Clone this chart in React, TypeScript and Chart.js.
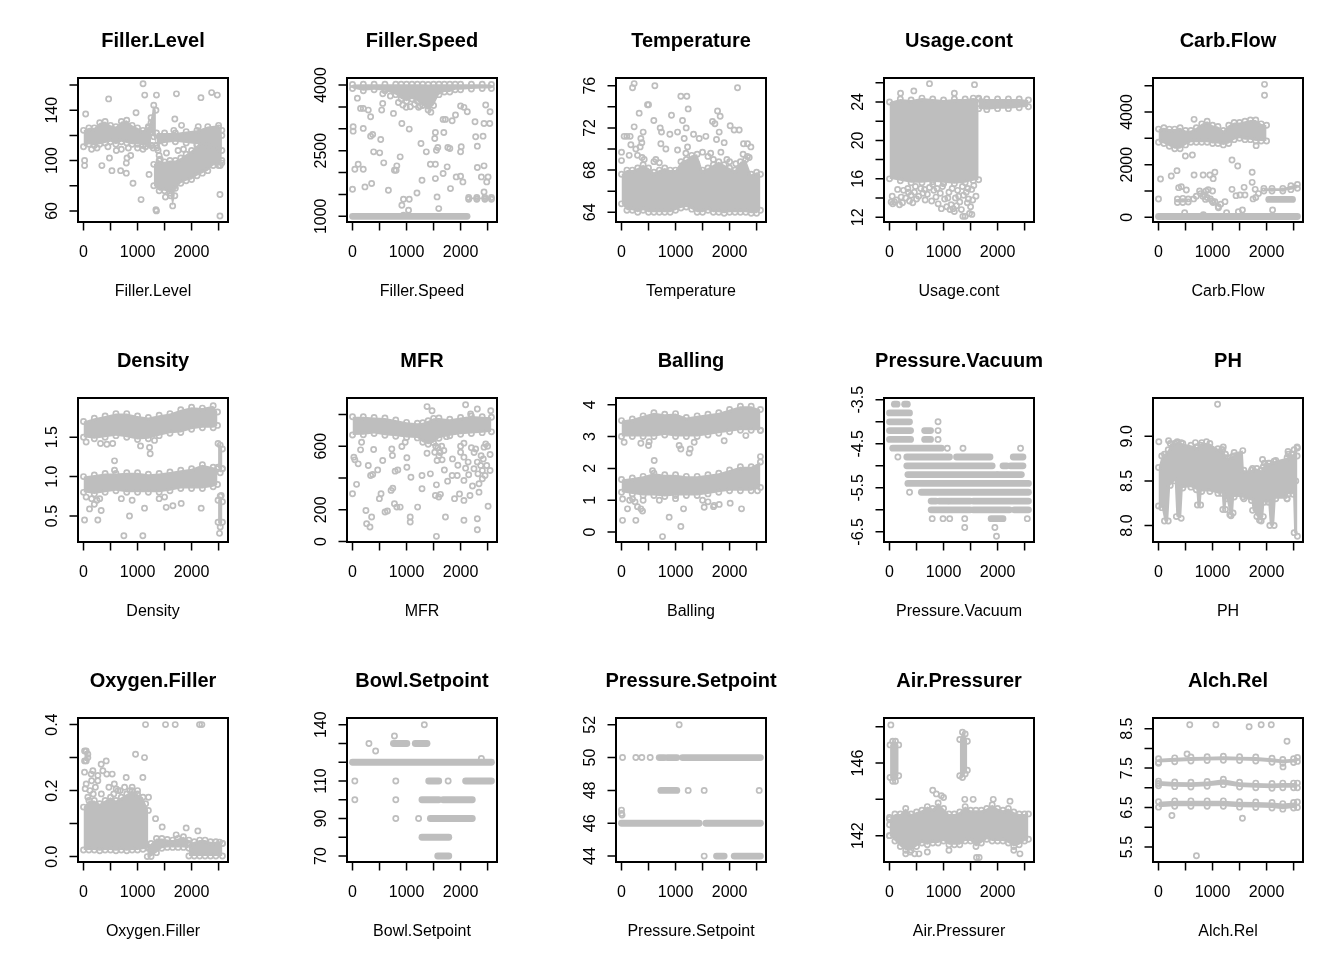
import { useEffect, useRef } from "react"
import { Chart, registerables } from "chart.js"

Chart.register(...registerables)

const GRAY = "#bebebe"
const FONT = "'Liberation Sans', Arial, Helvetica, sans-serif"

type Pt = [number, number]
type Band = { x: number[]; lo: number[]; hi: number[] }
type Seg = [number, number, number] // [y, xFrom, xTo]

// shared x axis (row index)
const xRange = [-102, 2674]
const xTicks = [0, 500, 1000, 1500, 2000, 2500]
const xTickLabels = ["0", "", "1000", "", "2000", ""]

// ---------- Filler.Level ----------
const fillerLevelBands: Band[] = [
  { x: [0, 100, 200, 300, 400, 500, 600, 700, 800, 900, 1000, 1100, 1200, 1250], lo: [111, 113, 112, 113, 114, 115, 113, 115, 114, 113, 113, 112, 113, 112], hi: [124, 126, 126, 130, 131, 128, 127, 131, 132, 128, 126, 124, 127, 130] },
  { x: [1200, 1250, 1300, 1340], lo: [120, 122, 119, 112], hi: [126, 134, 144, 140] },
  { x: [1350, 1500, 1700, 1900, 2100, 2300, 2500, 2560], lo: [112, 114, 115, 114, 113, 112, 110, 108], hi: [122, 122, 122, 123, 124, 127, 128, 124] },
  { x: [1300, 1400, 1500, 1600, 1700, 1800, 1900, 2000, 2100, 2200, 2300, 2400, 2500, 2560], lo: [80, 76, 76, 74, 78, 82, 84, 85, 88, 90, 92, 96, 96, 98], hi: [97, 100, 99, 100, 100, 102, 105, 108, 112, 116, 120, 124, 126, 120] },
  { x: [1610, 1650, 1690], lo: [72, 64, 72], hi: [80, 78, 80] },
]
const fillerLevelPts: Pt[] = [
  [40, 137], [20, 100], [20, 96], [465, 149], [480, 102], [340, 96], [526, 92], [687, 92], [792, 90], [792, 98], [805, 102], [873, 104],
  [916, 82], [1065, 69], [1102, 161], [1133, 152], [1350, 152], [1350, 60], [1340, 61], [1213, 89], [1720, 153], [1690, 133], [1814, 128],
  [2173, 150], [2123, 127], [2371, 154], [2476, 152], [2525, 73], [2525, 56], [972, 138], [607, 108], [452, 111], [1535, 106], [1671, 124],
  [1516, 71], [1380, 108], [1400, 104], [1420, 101], [1360, 110], [1290, 110], [1260, 112], [250, 110], [150, 109], [700, 109], [830, 110],
  [1000, 110], [1100, 109], [1150, 111], [1850, 109], [1750, 108], [2450, 110], [2530, 96], [2560, 100],
]

// ---------- Filler.Speed ----------
const fillerSpeedBands: Band[] = [
  { x: [0, 200, 400, 600, 800, 900, 1000, 1100, 1200, 1300, 1400, 1500, 1600, 1700, 1800, 1900, 2000, 2200, 2400, 2571], lo: [3920, 3870, 3890, 3870, 3780, 3680, 3630, 3680, 3630, 3530, 3430, 3530, 3780, 3840, 3840, 3890, 3890, 3910, 3920, 3920], hi: [4010, 4020, 4020, 4020, 4020, 4020, 4020, 4020, 4020, 4020, 4010, 4020, 4020, 4020, 4020, 4020, 4020, 4020, 4020, 4010] },
  { x: [2150, 2300, 2450, 2571], lo: [1390, 1390, 1390, 1390], hi: [1430, 1430, 1430, 1430] },
]
const fillerSpeedSegs: Seg[] = [[1000, 0, 2120]]
const fillerSpeedPts: Pt[] = [
  [12, 3046], [12, 2946], [199, 3008], [149, 3466], [199, 3466], [292, 3427], [335, 3275], [373, 2870], [522, 2756], [335, 2832], [559, 3580],
  [540, 3427], [758, 3351], [913, 3122], [931, 3542], [994, 3489], [1050, 2992], [1069, 3504], [1223, 3489], [1267, 2664], [1366, 2473],
  [1534, 2916], [1522, 2779], [1690, 2916], [1578, 2572], [1553, 2511], [1764, 2572], [1801, 2549], [1677, 3214], [1720, 3214], [1844, 3183],
  [1906, 3313], [2000, 3519], [2062, 3489], [2012, 2588], [2000, 2473], [2124, 3389], [2267, 3160], [2279, 2817], [2310, 2603], [2416, 2832],
  [2434, 3122], [2465, 3542], [2546, 3389], [2540, 3122], [0, 1618], [199, 2076], [43, 2076], [105, 2191], [230, 1672], [354, 1748],
  [391, 2473], [503, 2450], [578, 2221], [664, 1595], [776, 2053], [807, 2053], [820, 2153], [882, 2359], [913, 1252], [943, 1389],
  [1050, 1389], [1037, 1137], [1193, 1534], [1286, 1824], [1441, 2191], [1534, 2191], [1534, 1862], [1565, 1443], [1596, 1176], [1677, 1977],
  [1752, 2130], [1813, 1633], [1919, 1900], [2000, 1916], [2043, 1786], [2310, 2114], [2385, 1900], [2434, 2153], [2434, 1557], [2484, 1786],
  [2509, 1900], [943, 1023], [90, 3700], [560, 3800], [600, 3900], [700, 3750], [850, 3600], [1150, 3560], [1250, 3520], [1450, 3380],
]

// ---------- Temperature ----------
const temperatureBands: Band[] = [
  { x: [0, 100, 200, 300, 400, 500, 600, 700, 800, 900, 1000, 1100, 1200, 1300, 1400, 1500, 1600, 1700, 1800, 1900, 2000, 2100, 2200, 2300, 2400, 2500, 2571], lo: [64.8, 64.2, 64.2, 64.0, 64.2, 64.0, 64.0, 64.0, 64.0, 64.0, 64.2, 64.4, 64.5, 64.3, 64.0, 64.0, 64.2, 64.0, 64.0, 63.9, 64.0, 64.0, 64.0, 64.0, 63.9, 63.9, 64.2], hi: [67.6, 68.0, 68.0, 68.2, 68.5, 68.2, 67.8, 68.0, 68.2, 68.0, 68.0, 68.8, 69.0, 69.4, 69.5, 68.0, 68.2, 68.5, 68.8, 68.5, 68.2, 68.0, 68.8, 69.0, 67.6, 67.8, 67.6] },
]
const temperaturePts: Pt[] = [
  [0, 69.7], [0, 68.9], [49, 71.2], [99, 71.2], [160, 71.2], [204, 75.8], [234, 76.2], [173, 70.4], [142, 69.4], [234, 72.1], [327, 73.4],
  [358, 71], [376, 70.6], [345, 70.2], [401, 71.6], [265, 70], [296, 69.4], [481, 74.2], [500, 74.2], [617, 76.0], [598, 72.7], [635, 69],
  [716, 72], [740, 71.6], [728, 70.5], [821, 70], [895, 71.4], [925, 73.2], [1037, 71.6], [1098, 75], [1209, 75], [1129, 72.7], [1160, 71],
  [1197, 72], [1234, 73.8], [1222, 70.2], [1037, 69.9], [1191, 69.6], [1333, 71.4], [1438, 71], [1561, 71.2], [1499, 69.7], [1394, 68.6],
  [1684, 72.6], [1728, 72.4], [1777, 73.6], [1808, 71.6], [1826, 73.1], [1758, 70.9], [1839, 69.7], [1900, 70.6], [2011, 72.2], [2085, 71.8],
  [2178, 71.8], [2147, 75.8], [2258, 70.5], [2332, 70.5], [2363, 69.2], [2394, 70.2], [2116, 68.6], [380, 69.2], [420, 69.0], [600, 68.8],
  [700, 68.7], [1600, 69.3], [1650, 69.6], [1700, 69.0], [1950, 69.0], [2250, 69.5], [2330, 69.3], [2000, 68.8],
]

// ---------- Usage.cont ----------
const usageContBands: Band[] = [
  { x: [0, 200, 400, 600, 800, 1000, 1200, 1400, 1550, 1650], lo: [16.0, 15.8, 15.6, 15.6, 15.7, 15.6, 15.5, 15.6, 15.8, 15.9], hi: [24.0, 24.3, 24.2, 24.4, 24.3, 24.2, 24.3, 24.3, 24.4, 24.3] },
  { x: [1650, 1800, 2000, 2200, 2400, 2571], lo: [23.3, 23.2, 23.3, 23.3, 23.4, 23.5], hi: [24.4, 24.3, 24.3, 24.3, 24.3, 24.2] },
]
const usageContPts: Pt[] = [
  [31, 13.6], [93, 13.6], [60, 13.4], [130, 13.8], [185, 13.3], [216, 14.1], [260, 14.8], [300, 14.0], [339, 15.0], [370, 13.7], [400, 14.3],
  [430, 13.5], [460, 14.6], [500, 13.9], [540, 14.2], [580, 15.0], [620, 14.5], [660, 13.8], [700, 14.4], [740, 15.1], [780, 13.7], [820, 14.8],
  [860, 14.1], [900, 13.4], [940, 14.5], [980, 15.2], [1020, 13.9], [1060, 13.1], [1100, 14.6], [1140, 13.3], [1180, 12.9], [1220, 14.0],
  [1260, 14.8], [1300, 13.6], [1330, 12.8], [1370, 14.3], [1400, 12.1], [1440, 13.5], [1480, 12.4], [1520, 14.9], [1560, 15.3], [1000, 15.5],
  [1450, 15.0], [800, 15.4], [1357, 12.1], [1524, 12.3], [1200, 12.6], [204, 24.9], [450, 25.15], [740, 25.9], [1573, 25.8], [1200, 24.9],
  [50, 14.2], [150, 14.9], [240, 13.5], [350, 14.6], [480, 15.2], [650, 14.9], [880, 15.0], [1080, 14.0], [1160, 15.0], [1240, 13.2],
  [1280, 14.2], [1350, 15.2], [1420, 14.6], [1460, 13.9], [1500, 13.1], [1540, 13.8], [1600, 14.2], [1120, 12.8], [960, 12.9],
]

// ---------- Carb.Flow ----------
const carbFlowBands: Band[] = [
  { x: [0, 100, 200, 300, 400, 500, 600, 700, 800, 900, 1000, 1100, 1200, 1300, 1400, 1500, 1600, 1700, 1800, 1900, 2000], lo: [2850, 2800, 2700, 2600, 2600, 2750, 2850, 2850, 2850, 2850, 2800, 2800, 2750, 2800, 2950, 3000, 2950, 2950, 2900, 2900, 2900], hi: [3350, 3400, 3350, 3350, 3400, 3300, 3300, 3400, 3550, 3650, 3500, 3450, 3300, 3500, 3600, 3600, 3650, 3700, 3700, 3550, 3500] },
  { x: [1950, 2100, 2300, 2450, 2571], lo: [1000, 1000, 1000, 1050, 1100], hi: [1100, 1100, 1100, 1200, 1250] },
  { x: [350, 450, 550], lo: [560, 560, 580], hi: [700, 720, 700] },
]
const carbFlowSegs: Seg[] = [[30, 0, 2571], [680, 2040, 2480]]
const carbFlowPts: Pt[] = [
  [0, 696], [37, 1456], [236, 1570], [342, 1772], [373, 1127], [422, 1165], [515, 1038], [497, 2329], [627, 2367], [658, 3722], [658, 1608],
  [826, 1608], [950, 1608], [1043, 1709], [1012, 1469], [760, 1000], [880, 1000], [920, 1050], [1000, 1000], [1043, 595], [1105, 405],
  [1110, 360], [820, 800], [870, 680], [1230, 595], [1360, 1063], [1360, 2177], [1466, 1950], [1509, 848], [1584, 1139], [1435, 823],
  [1600, 850], [1733, 1709], [1733, 1329], [1789, 1063], [1807, 2722], [1962, 5051], [1962, 4634], [1260, 177], [1478, 215], [1553, 278],
  [2111, 278], [484, 177], [830, 100], [900, 750], [960, 700], [650, 700], [700, 800], [1150, 500], [1750, 700], [1800, 750], [1850, 900],
  [780, 900], [850, 850], [990, 620], [1010, 560],
]

// ---------- Density ----------
const densityBands: Band[] = [
  { x: [0, 200, 400, 600, 800, 1000, 1200, 1400, 1600, 1800, 2000, 2200, 2400, 2480], lo: [1.50, 1.48, 1.50, 1.52, 1.50, 1.47, 1.48, 1.52, 1.55, 1.56, 1.60, 1.62, 1.62, 1.65], hi: [1.70, 1.74, 1.77, 1.80, 1.80, 1.77, 1.75, 1.78, 1.80, 1.85, 1.88, 1.87, 1.90, 1.82] },
  { x: [0, 200, 400, 600, 800, 1000, 1200, 1400, 1600, 1800, 2000, 2200, 2400, 2480], lo: [0.80, 0.78, 0.80, 0.82, 0.80, 0.80, 0.80, 0.80, 0.82, 0.85, 0.85, 0.85, 0.87, 0.90], hi: [1.00, 1.02, 1.04, 1.04, 1.05, 1.05, 1.03, 1.04, 1.06, 1.08, 1.10, 1.15, 1.12, 1.10] },
  { x: [2490, 2530, 2571], lo: [1.12, 1.05, 1.10], hi: [1.42, 1.40, 1.35] },
  { x: [2490, 2530, 2571], lo: [0.42, 0.36, 0.42], hi: [0.70, 0.75, 0.68] },
]
const densityPts: Pt[] = [
  [19, 0.45], [265, 0.45], [49, 0.74], [111, 0.59], [200, 0.65], [327, 0.57], [574, 1.2], [574, 1.08], [851, 0.5], [747, 0.25], [1098, 0.25],
  [1129, 0.6], [1530, 0.61], [1654, 0.63], [1808, 0.66], [2178, 0.6], [1055, 1.39], [1222, 1.37], [1234, 1.29], [1314, 1.46], [315, 1.42],
  [432, 1.41], [540, 1.42], [49, 1.44], [2517, 0.28], [2567, 1.1], [2548, 0.76], [150, 0.72], [250, 0.7], [300, 0.72], [700, 0.72], [900, 0.7],
  [1400, 0.72], [1500, 0.74],
]

// ---------- MFR ----------
const mfrBands: Band[] = [
  { x: [0, 200, 400, 600, 800, 1000, 1200, 1300, 1400, 1500, 1600, 1800, 2000, 2200, 2400, 2571], lo: [670, 672, 680, 668, 662, 655, 652, 625, 612, 622, 650, 665, 675, 680, 685, 690], hi: [785, 785, 780, 778, 765, 750, 745, 748, 760, 775, 778, 770, 780, 790, 785, 782] },
]
const mfrPts: Pt[] = [
  [0, 301], [25, 531], [43, 514], [75, 360], [105, 489], [149, 577], [168, 625], [248, 196], [261, 113], [292, 479], [323, 92], [354, 155],
  [335, 416], [373, 422], [391, 579], [466, 451], [497, 270], [528, 301], [559, 510], [602, 186], [646, 192], [714, 322], [745, 336], [776, 238],
  [820, 217], [882, 217], [739, 541], [727, 583], [789, 443], [838, 451], [913, 598], [975, 625], [1006, 527], [1006, 468], [1068, 155],
  [1068, 123], [1081, 405], [1205, 217], [1286, 332], [1286, 416], [1379, 849], [1379, 556], [1472, 823], [1441, 426], [1522, 562], [1565, 510],
  [1534, 290], [1553, 357], [1553, 33], [1596, 280], [1627, 297], [1658, 514], [1690, 573], [1739, 660], [1720, 155], [1888, 270], [1844, 416],
  [1938, 416], [2000, 562], [2062, 619], [2062, 531], [2062, 134], [2062, 385], [2062, 259], [2093, 861], [2093, 462], [2174, 290], [2248, 458],
  [2279, 583], [2310, 500], [2322, 426], [2341, 364], [2341, 311], [2372, 479], [2403, 447], [2310, 144], [2310, 75], [2434, 594], [2465, 614],
  [2484, 479], [2453, 416], [2403, 395], [2546, 548], [2546, 447], [2509, 222], [2558, 823], [2310, 834], [2186, 803], [1540, 600], [1580, 590],
  [1620, 560], [1600, 540], [1650, 600], [2200, 590], [2250, 560], [2000, 600], [1700, 450], [1760, 380], [1850, 520], [1950, 480], [2150, 420],
  [2220, 350], [2380, 540], [2420, 520], [2500, 600], [2140, 500], [1980, 300],
]

// ---------- Balling ----------
const ballingBands: Band[] = [
  { x: [0, 200, 400, 600, 800, 1000, 1200, 1400, 1600, 1800, 2000, 2200, 2400, 2571], lo: [3.0, 3.0, 3.0, 3.0, 3.05, 3.0, 3.0, 3.0, 3.05, 3.1, 3.15, 3.2, 3.2, 3.2], hi: [3.5, 3.55, 3.65, 3.75, 3.7, 3.72, 3.6, 3.65, 3.7, 3.75, 3.85, 3.95, 3.95, 3.85] },
  { x: [0, 200, 400, 600, 800, 1000, 1200, 1400, 1600, 1800, 2000, 2200, 2400, 2571], lo: [1.25, 1.2, 1.15, 1.15, 1.12, 1.15, 1.15, 1.15, 1.2, 1.25, 1.3, 1.3, 1.3, 1.4], hi: [1.65, 1.7, 1.75, 1.85, 1.8, 1.8, 1.75, 1.75, 1.8, 1.85, 1.95, 2.05, 2.05, 2.2] },
]
const ballingPts: Pt[] = [
  [19, 0.37], [265, 0.37], [111, 0.73], [19, 1.04], [204, 1.04], [296, 0.8], [358, 0.73], [389, 0.66], [605, 2.25], [574, 1.93], [882, 0.47],
  [759, -0.14], [1098, 0.18], [1148, 0.73], [1530, 0.78], [1703, 0.8], [1808, 0.87], [2011, 0.91], [2221, 0.73], [1715, 0.84], [49, 2.82],
  [358, 2.79], [500, 2.72], [512, 2.84], [1067, 2.72], [1098, 2.61], [1252, 2.48], [1271, 2.61], [1345, 2.82], [1900, 2.87], [2301, 3.03],
  [2571, 3.19], [2571, 2.37], [2517, 1.3], [150, 1.0], [250, 0.95], [400, 1.0], [700, 1.0], [1000, 1.05], [1500, 1.0], [1600, 0.95],
]

// ---------- Pressure.Vacuum ----------
const pressureVacuumSegs: Seg[] = [
  [-3.6, 90, 140], [-3.6, 280, 330], [-3.8, 0, 370], [-4.0, 0, 370], [-4.2, 0, 390], [-4.2, 650, 760], [-4.4, 0, 390], [-4.4, 650, 760],
  [-4.6, 60, 960], [-4.8, 320, 1110], [-4.8, 1240, 1860], [-4.8, 2290, 2470], [-5.0, 320, 1900], [-5.0, 2100, 2170], [-5.0, 2240, 2470],
  [-5.2, 340, 1980], [-5.2, 2010, 2440], [-5.4, 340, 2571], [-5.6, 590, 2571], [-5.8, 770, 860], [-5.8, 920, 1080], [-5.8, 1110, 1490],
  [-5.8, 1550, 2571], [-6.0, 770, 1490], [-6.0, 1550, 2220], [-6.0, 2310, 2571], [-6.2, 1880, 2100],
]
const pressureVacuumPts: Pt[] = [
  [898, -4.0], [898, -4.2], [898, -4.4], [1070, -4.6], [1360, -4.6], [2425, -4.6], [155, -4.8], [371, -5.6], [790, -6.2], [990, -6.2],
  [1114, -6.2], [1392, -6.2], [2550, -6.2], [1392, -6.4], [1950, -6.4], [1980, -6.6],
]

// ---------- PH ----------
const phBands: Band[] = [
  { x: [0, 60, 110, 180, 217, 300, 330, 420, 450, 600, 700, 720, 780, 800, 950, 1100, 1170, 1190, 1240, 1260, 1320, 1380, 1400, 1560, 1580, 1720, 1740, 1820, 1900, 1940, 1960, 2030, 2060, 2140, 2170, 2380, 2400, 2490, 2510, 2571], lo: [8.22, 8.20, 8.05, 8.05, 8.45, 8.50, 8.10, 8.08, 8.42, 8.43, 8.40, 8.23, 8.23, 8.38, 8.38, 8.36, 8.36, 8.18, 8.18, 8.30, 8.12, 8.14, 8.32, 8.32, 8.30, 8.28, 8.17, 8.10, 8.05, 8.10, 8.26, 8.26, 8.00, 8.00, 8.30, 8.30, 8.35, 8.35, 7.92, 7.88], hi: [8.65, 8.78, 8.80, 8.85, 8.92, 8.92, 8.93, 8.93, 8.92, 8.90, 8.88, 8.88, 8.90, 8.93, 8.92, 8.86, 8.85, 8.85, 8.80, 8.76, 8.76, 8.78, 8.82, 8.84, 8.62, 8.62, 8.64, 8.64, 8.62, 8.66, 8.70, 8.70, 8.70, 8.72, 8.73, 8.76, 8.80, 8.80, 8.85, 8.87] },
]
const phPts: Pt[] = [
  [6, 8.94], [186, 8.95], [348, 8.94], [683, 8.93], [888, 8.94], [1199, 8.88], [1093, 9.36], [1925, 8.74], [2397, 8.83], [2565, 8.88],
  [2565, 8.78], [1341, 8.11], [1869, 8.06], [2378, 8.3], [2540, 8.5],
]

// ---------- Oxygen.Filler ----------
const oxygenFillerBands: Band[] = [
  { x: [0, 100, 200, 300, 400, 500, 600, 700, 800, 900, 1000, 1100, 1200], lo: [0.02, 0.02, 0.02, 0.018, 0.02, 0.02, 0.018, 0.02, 0.018, 0.02, 0.02, 0.022, 0.025], hi: [0.15, 0.17, 0.17, 0.16, 0.17, 0.18, 0.17, 0.18, 0.19, 0.20, 0.19, 0.18, 0.14] },
  { x: [1180, 1250, 1350, 1450, 1550, 1650, 1750, 1850, 1950], lo: [0.0, 0.0, 0.012, 0.025, 0.028, 0.028, 0.028, 0.028, 0.025], hi: [0.03, 0.04, 0.055, 0.055, 0.052, 0.05, 0.055, 0.06, 0.05] },
  { x: [1950, 2050, 2150, 2250, 2350, 2450, 2571], lo: [0.002, 0.002, 0.002, 0.002, 0.002, 0.002, 0.002], hi: [0.04, 0.045, 0.05, 0.05, 0.045, 0.045, 0.04] },
  { x: [20, 50, 80], lo: [0.29, 0.29, 0.30], hi: [0.32, 0.32, 0.31] },
]
const oxygenFillerPts: Pt[] = [
  [19, 0.256], [31, 0.206], [142, 0.25], [173, 0.26], [265, 0.246], [327, 0.28], [420, 0.29], [531, 0.25], [265, 0.23], [150, 0.23], [605, 0.205],
  [790, 0.24], [963, 0.31], [1129, 0.30], [1098, 0.24], [1203, 0.18], [1148, 0.4], [1518, 0.4], [1697, 0.4], [2147, 0.4], [2190, 0.4],
  [1333, 0.115], [1456, 0.09], [1900, 0.087], [2116, 0.078], [1715, 0.066], [2517, 0.044], [2571, 0.04], [358, 0.26], [430, 0.25], [570, 0.22],
  [760, 0.21], [900, 0.21], [1000, 0.2], [50, 0.22], [120, 0.2], [220, 0.21], [470, 0.21], [680, 0.2], [80, 0.18], [180, 0.19], [330, 0.19],
  [560, 0.19], [640, 0.2], [860, 0.2], [1150, 0.16],
]

// ---------- Bowl.Setpoint ----------
const bowlSetpointSegs: Seg[] = [
  [120, 0, 2571], [130, 757, 1006], [130, 1161, 1379], [110, 1410, 1596], [110, 2093, 2571], [100, 1285, 1596], [100, 1677, 2217],
  [90, 1441, 2217], [80, 1285, 1782], [70, 1577, 1782],
]
const bowlSetpointPts: Pt[] = [
  [304, 130], [1329, 140], [776, 134], [428, 126], [2385, 122], [43, 110], [801, 110], [1770, 110], [43, 100], [801, 100], [801, 90], [1223, 90],
]

// ---------- Pressure.Setpoint ----------
const pressureSetpointSegs: Seg[] = [
  [50, 1129, 2571], [50, 697, 790], [50, 851, 1024], [48, 728, 1024], [46, 0, 1438], [46, 1561, 2571], [44, 1758, 1900], [44, 2085, 2571],
]
const pressureSetpointPts: Pt[] = [
  [1067, 52], [19, 50], [265, 50], [376, 50], [531, 50], [1234, 48], [1530, 48], [2548, 48], [1530, 44], [0, 46.8], [0, 46.6], [10, 46.5],
]

// ---------- Air.Pressurer ----------
const airPressurerBands: Band[] = [
  { x: [0, 100, 200, 300, 400, 500, 600, 700, 800, 900, 1000, 1100, 1200, 1300, 1400, 1500, 1600, 1700, 1800, 1900, 2000, 2100, 2200, 2300, 2400, 2500, 2571], lo: [142.0, 141.7, 141.4, 141.2, 141.2, 141.4, 141.6, 141.5, 141.6, 141.6, 141.7, 141.5, 141.5, 141.5, 141.7, 141.7, 141.4, 141.6, 141.8, 141.7, 141.7, 141.7, 141.6, 141.4, 141.5, 141.7, 141.8], hi: [142.9, 143.2, 143.2, 143.5, 143.2, 143.3, 143.4, 143.6, 143.5, 143.8, 143.5, 143.2, 143.2, 143.3, 143.6, 143.4, 143.4, 143.4, 143.5, 143.7, 143.5, 143.4, 143.5, 143.3, 143.2, 143.2, 143.2] },
  { x: [10, 60, 110, 170], lo: [145.2, 145.0, 145.0, 145.3], hi: [147.0, 147.2, 147.2, 147.0] },
  { x: [1300, 1350, 1400, 1440], lo: [145.3, 145.2, 145.4, 145.6], hi: [147.3, 147.7, 147.6, 147.2] },
]
const airPressurerPts: Pt[] = [
  [25, 148.1], [0, 142.0], [0, 142.6], [0, 143.0], [867, 144.3], [960, 144.2], [1393, 144.0], [1548, 144.0], [1920, 144.0], [2230, 143.9],
  [1610, 140.8], [1659, 140.8], [545, 141.0], [465, 141.0], [2414, 141.0], [700, 141.1], [1100, 141.2], [800, 144.5], [1000, 144.1],
  [300, 141.0], [380, 141.1], [2300, 141.2],
]

// ---------- Alch.Rel ----------
const alchRelBands: Band[] = [
  { x: [0, 300, 600, 900, 1200, 1500, 1800, 2100, 2300, 2500, 2571], lo: [7.64, 7.66, 7.68, 7.69, 7.70, 7.69, 7.68, 7.65, 7.62, 7.64, 7.67], hi: [7.74, 7.76, 7.78, 7.79, 7.80, 7.79, 7.78, 7.75, 7.72, 7.74, 7.77] },
  { x: [0, 300, 600, 900, 1200, 1500, 1800, 2100, 2300, 2500, 2571], lo: [7.05, 7.03, 7.02, 7.04, 7.08, 7.02, 7.00, 6.99, 7.00, 7.00, 7.00], hi: [7.17, 7.15, 7.14, 7.16, 7.22, 7.14, 7.12, 7.11, 7.12, 7.12, 7.12] },
  { x: [0, 300, 600, 900, 1200, 1500, 1800, 2100, 2300, 2500, 2571], lo: [6.51, 6.53, 6.53, 6.53, 6.53, 6.51, 6.50, 6.49, 6.46, 6.49, 6.50], hi: [6.65, 6.67, 6.67, 6.67, 6.67, 6.65, 6.64, 6.63, 6.60, 6.63, 6.64] },
]
const alchRelPts: Pt[] = [
  [578, 8.6], [1062, 8.6], [1677, 8.55], [1900, 8.6], [2087, 8.6], [2378, 8.18], [528, 7.86], [248, 6.3], [1553, 6.23], [702, 5.28],
  [2304, 7.53], [0, 7.62], [0, 7.11],
]

interface PanelSpec {
  title: string
  bands: Band[]
  segs: Seg[]
  pts: Pt[]
  yRange: number[]
  yTicks: number[]
  yLabels: string[]
}

const panels: PanelSpec[] = [
  { title: "Filler.Level", bands: fillerLevelBands, segs: [], pts: fillerLevelPts, yRange: [51.2, 165.6], yTicks: [60, 80, 100, 120, 140, 160], yLabels: ["60", "", "100", "", "140", ""] },
  { title: "Filler.Speed", bands: fillerSpeedBands, segs: fillerSpeedSegs, pts: fillerSpeedPts, yRange: [870, 4160], yTicks: [1000, 1500, 2000, 2500, 3000, 3500, 4000], yLabels: ["1000", "", "", "2500", "", "", "4000"] },
  { title: "Temperature", bands: temperatureBands, segs: [], pts: temperaturePts, yRange: [63.08, 76.73], yTicks: [64, 66, 68, 70, 72, 74, 76], yLabels: ["64", "", "68", "", "72", "", "76"] },
  { title: "Usage.cont", bands: usageContBands, segs: [], pts: usageContPts, yRange: [11.51, 26.49], yTicks: [12, 14, 16, 18, 20, 22, 24, 26], yLabels: ["12", "", "16", "", "20", "", "24", ""] },
  { title: "Carb.Flow", bands: carbFlowBands, segs: carbFlowSegs, pts: carbFlowPts, yRange: [-178, 5292], yTicks: [0, 1000, 2000, 3000, 4000, 5000], yLabels: ["0", "", "2000", "", "4000", ""] },
  { title: "Density", bands: densityBands, segs: [], pts: densityPts, yRange: [0.17, 1.998], yTicks: [0.5, 1.0, 1.5], yLabels: ["0.5", "1.0", "1.5"] },
  { title: "MFR", bands: mfrBands, segs: [], pts: mfrPts, yRange: [-2.5, 903], yTicks: [0, 200, 400, 600, 800], yLabels: ["0", "200", "", "600", ""] },
  { title: "Balling", bands: ballingBands, segs: [], pts: ballingPts, yRange: [-0.31, 4.21], yTicks: [0, 1, 2, 3, 4], yLabels: ["0", "1", "2", "3", "4"] },
  { title: "Pressure.Vacuum", bands: [], segs: pressureVacuumSegs, pts: pressureVacuumPts, yRange: [-6.73, -3.46], yTicks: [-6.5, -6.0, -5.5, -5.0, -4.5, -4.0, -3.5], yLabels: ["-6.5", "", "-5.5", "", "-4.5", "", "-3.5"] },
  { title: "PH", bands: phBands, segs: [], pts: phPts, yRange: [7.815, 9.43], yTicks: [8.0, 8.5, 9.0], yLabels: ["8.0", "8.5", "9.0"] },
  { title: "Oxygen.Filler", bands: oxygenFillerBands, segs: [], pts: oxygenFillerPts, yRange: [-0.0163, 0.42], yTicks: [0, 0.1, 0.2, 0.3, 0.4], yLabels: ["0.0", "", "0.2", "", "0.4"] },
  { title: "Bowl.Setpoint", bands: [], segs: bowlSetpointSegs, pts: bowlSetpointPts, yRange: [66.8, 143.6], yTicks: [70, 80, 90, 100, 110, 120, 130, 140], yLabels: ["70", "", "90", "", "110", "", "", "140"] },
  { title: "Pressure.Setpoint", bands: [], segs: pressureSetpointSegs, pts: pressureSetpointPts, yRange: [43.64, 52.41], yTicks: [44, 46, 48, 50, 52], yLabels: ["44", "46", "48", "50", "52"] },
  { title: "Air.Pressurer", bands: airPressurerBands, segs: [], pts: airPressurerPts, yRange: [140.55, 148.48], yTicks: [142, 144, 146, 148], yLabels: ["142", "", "146", ""] },
  { title: "Alch.Rel", bands: alchRelBands, segs: [], pts: alchRelPts, yRange: [5.12, 8.77], yTicks: [5.5, 6.0, 6.5, 7.0, 7.5, 8.0, 8.5], yLabels: ["5.5", "", "6.5", "", "7.5", "", "8.5"] },
]

const colLefts = [0, 269, 538, 806, 1075]
const rowTops = [0, 320, 640]

const circle = {
  pointRadius: 2.6,
  pointBorderWidth: 1.7,
  pointBorderColor: GRAY,
  pointBackgroundColor: "rgba(0,0,0,0)",
  pointHoverRadius: 2.6,
}

// R-style box, ticks and labels drawn on top of the plot
function rAxes(spec: PanelSpec) {
  return {
    id: "rAxes",
    afterDraw(chart: any) {
      const { ctx, chartArea: a } = chart
      const xs = chart.scales.x
      const ys = chart.scales.y
      ctx.save()
      ctx.strokeStyle = "#000"
      ctx.fillStyle = "#000"

      ctx.lineWidth = 1.5
      ctx.beginPath()
      xTicks.forEach((v) => {
        const px = xs.getPixelForValue(v)
        ctx.moveTo(px, a.bottom)
        ctx.lineTo(px, a.bottom + 8.5)
      })
      spec.yTicks.forEach((v) => {
        const py = ys.getPixelForValue(v)
        ctx.moveTo(a.left, py)
        ctx.lineTo(a.left - 8.5, py)
      })
      ctx.stroke()

      ctx.lineWidth = 2
      ctx.strokeRect(a.left, a.top, a.right - a.left, a.bottom - a.top)

      ctx.font = `16px ${FONT}`
      ctx.textAlign = "center"
      ctx.textBaseline = "alphabetic"
      xTicks.forEach((v, i) => {
        if (xTickLabels[i]) ctx.fillText(xTickLabels[i], xs.getPixelForValue(v), a.bottom + 35)
      })
      spec.yTicks.forEach((v, i) => {
        if (!spec.yLabels[i]) return
        ctx.save()
        ctx.translate(a.left - 21, ys.getPixelForValue(v))
        ctx.rotate(-Math.PI / 2)
        ctx.fillText(spec.yLabels[i], 0, 0)
        ctx.restore()
      })

      const cx = (a.left + a.right) / 2
      ctx.fillText(spec.title, cx, a.bottom + 74)
      ctx.font = `bold 20px ${FONT}`
      ctx.fillText(spec.title, cx, a.top - 31)
      ctx.restore()
    },
  }
}

function Panel({ spec, left, top }: { spec: PanelSpec; left: number; top: number }) {
  const canvasRef = useRef<HTMLCanvasElement>(null)

  useEffect(() => {
    if (!canvasRef.current) return
    const datasets: any[] = []

    spec.bands.forEach((b) => {
      datasets.push({
        data: b.x.map((x, i) => ({ x, y: b.lo[i] })),
        showLine: true,
        borderWidth: 0,
        borderColor: "rgba(0,0,0,0)",
        fill: false,
        clip: 0,
        ...circle,
      })
      datasets.push({
        data: b.x.map((x, i) => ({ x, y: b.hi[i] })),
        showLine: true,
        borderWidth: 0,
        borderColor: "rgba(0,0,0,0)",
        backgroundColor: GRAY,
        fill: "-1",
        clip: 0,
        ...circle,
      })
    })

    spec.segs.forEach(([y, x1, x2]) => {
      datasets.push({
        data: [{ x: x1, y }, { x: x2, y }],
        showLine: true,
        borderWidth: 6.8,
        borderColor: GRAY,
        borderCapStyle: "round",
        fill: false,
        pointRadius: 0,
        clip: 0,
      })
    })

    datasets.push({
      data: spec.pts.map(([x, y]) => ({ x, y })),
      showLine: false,
      fill: false,
      clip: 0,
      ...circle,
    })

    const chart = new Chart(canvasRef.current, {
      type: "line",
      data: { datasets },
      options: {
        animation: false,
        responsive: false,
        events: [],
        layout: { padding: { left: 78, top: 78, right: 41, bottom: 98 } },
        elements: { line: { tension: 0 } },
        plugins: {
          legend: { display: false },
          tooltip: { enabled: false },
          title: { display: false },
        },
        scales: {
          x: { type: "linear", min: xRange[0], max: xRange[1], display: false },
          y: { type: "linear", min: spec.yRange[0], max: spec.yRange[1], display: false },
        },
      },
      plugins: [rAxes(spec)],
    } as any)

    return () => chart.destroy()
  }, [spec])

  return (
    <canvas
      ref={canvasRef}
      width={269}
      height={320}
      style={{ position: "absolute", left, top, width: 269, height: 320 }}
    />
  )
}

export default function App() {
  return (
    <div style={{ position: "absolute", left: 0, top: 0, width: 1344, height: 960, background: "#fff" }}>
      {panels.map((spec, i) => (
        <Panel key={spec.title} spec={spec} left={colLefts[i % 5]} top={rowTops[Math.floor(i / 5)]} />
      ))}
    </div>
  )
}
